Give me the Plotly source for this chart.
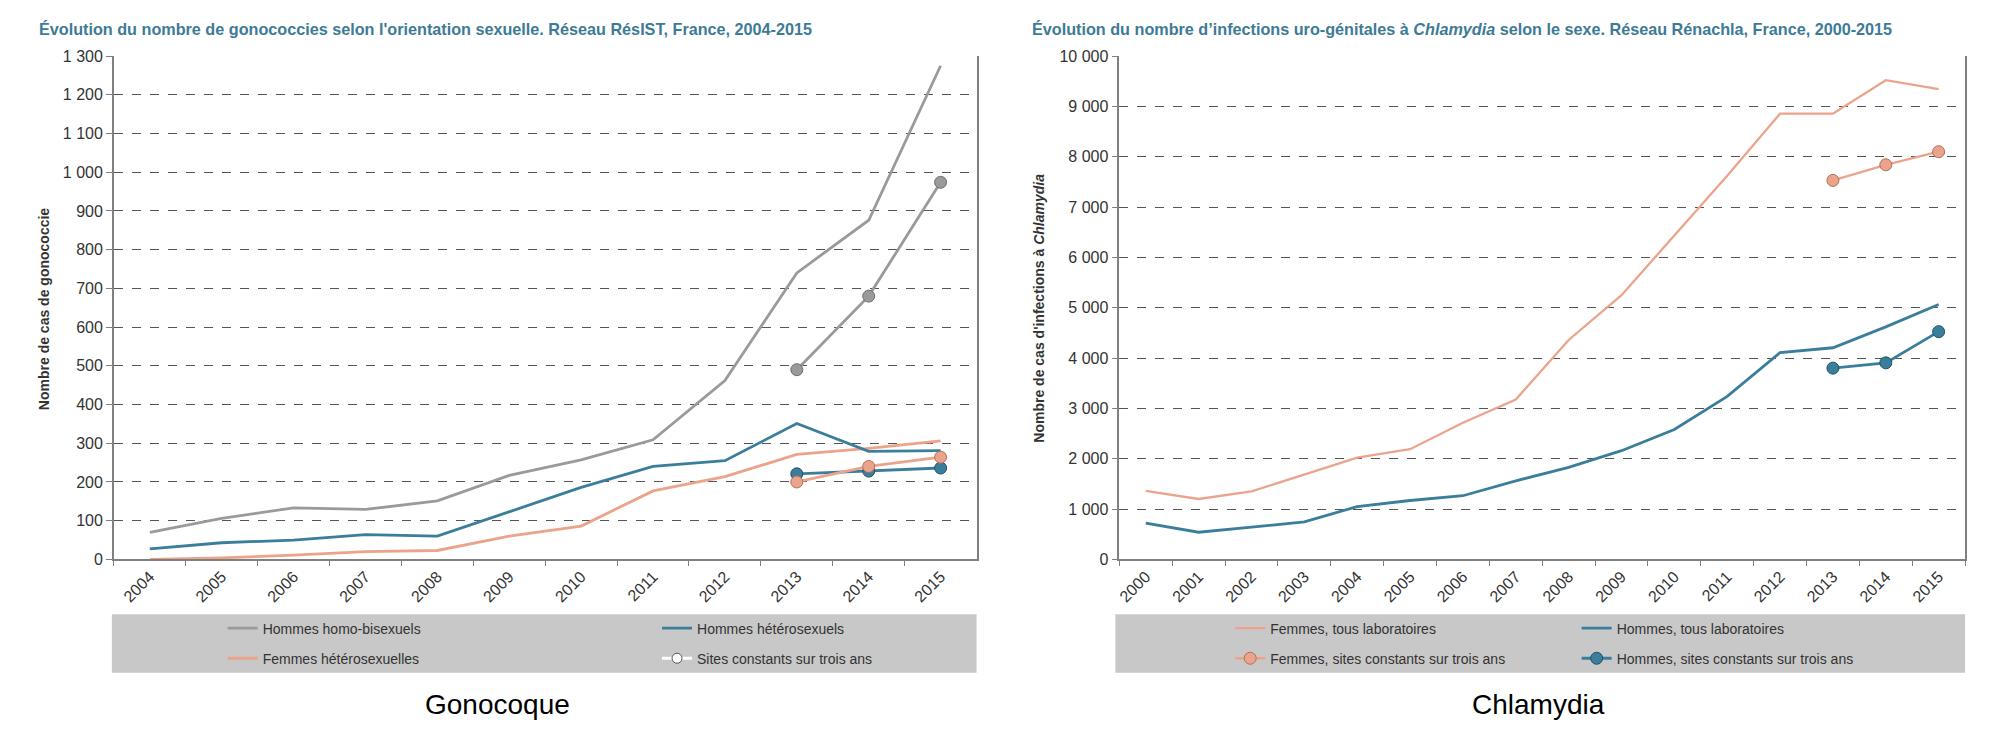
import plotly.graph_objects as go

# Gonocoque - Réseau RésIST, 2004-2015
gono_years = ['2004', '2005', '2006', '2007', '2008', '2009',
              '2010', '2011', '2012', '2013', '2014', '2015']
gono_hsh = [70, 106, 133, 129, 151, 217, 257, 309, 462, 740, 876, 1275]
gono_hetero_h = [27, 43, 50, 64, 60, 123, 186, 240, 255, 351, 279, 281]
gono_hetero_f = [0, 4, 11, 20, 23, 60, 86, 177, 214, 271, 287, 306]
const_years = ['2013', '2014', '2015']
gono_hsh_const = [490, 680, 974]
gono_hetero_h_const = [221, 228, 236]
gono_hetero_f_const = [200, 240, 264]

# Chlamydia - Réseau Rénachla, 2000-2015
chla_years = ['2000', '2001', '2002', '2003', '2004', '2005', '2006', '2007',
              '2008', '2009', '2010', '2011', '2012', '2013', '2014', '2015']
chla_femmes = [1360, 1200, 1350, 1690, 2020, 2190, 2715, 3175,
               4360, 5250, 6440, 7620, 8855, 8855, 9520, 9345]
chla_hommes = [720, 540, 640, 745, 1050, 1170, 1265, 1560,
               1830, 2160, 2580, 3240, 4110, 4205, 4620, 5065]
chla_femmes_const = [7530, 7840, 8100]
chla_hommes_const = [3800, 3905, 4525]

GREY = '#9a9a9a'
TEAL = '#3a7e9c'
SALMON = '#eba48b'
TITLE_BLUE = '#3d7b96'
SANS = 'Liberation Sans, Arial, sans-serif'
W, H = 2006, 750


def px(x):
    return x / W


def py(y):
    return (H - y) / H


fig = go.Figure()

# ---- Gonocoque
fig.add_trace(go.Scatter(x=gono_years, y=gono_hsh, mode='lines', name='Hommes homo-bisexuels',
                         line=dict(color=GREY, width=2.8), xaxis='x', yaxis='y',
                         legend='legend', legendgroup='a'))
fig.add_trace(go.Scatter(x=gono_years, y=gono_hetero_f, mode='lines', name='Femmes hétérosexuelles',
                         line=dict(color=SALMON, width=2.8), xaxis='x', yaxis='y',
                         legend='legend', legendgroup='b'))
fig.add_trace(go.Scatter(x=gono_years, y=gono_hetero_h, mode='lines', name='Hommes hétérosexuels',
                         line=dict(color=TEAL, width=2.8), xaxis='x', yaxis='y',
                         legend='legend2', legendgroup='c'))
for vals, col, edge in [(gono_hsh_const, GREY, '#6e6e6e'),
                        (gono_hetero_h_const, TEAL, '#1f4f66'),
                        (gono_hetero_f_const, SALMON, '#b0705a')]:
    fig.add_trace(go.Scatter(x=const_years, y=vals, mode='lines+markers', showlegend=False,
                             line=dict(color=col, width=2.8),
                             marker=dict(size=12, color=col, line=dict(color=edge, width=1)),
                             xaxis='x', yaxis='y'))
# legend-only entry for the "sites constants" style
fig.add_trace(go.Scatter(x=[None], y=[None], mode='lines+markers', name='Sites constants sur trois ans',
                         line=dict(color='white', width=3),
                         marker=dict(size=10, color='white', line=dict(color='#555', width=1)),
                         xaxis='x', yaxis='y', legend='legend2', legendgroup='d'))

# ---- Chlamydia
fig.add_trace(go.Scatter(x=chla_years, y=chla_femmes, mode='lines', name='Femmes, tous laboratoires',
                         line=dict(color=SALMON, width=2.3), xaxis='x2', yaxis='y2',
                         legend='legend3', legendgroup='e'))
fig.add_trace(go.Scatter(x=const_years, y=chla_femmes_const, mode='lines+markers',
                         name='Femmes, sites constants sur trois ans',
                         line=dict(color=SALMON, width=2.3),
                         marker=dict(size=12, color=SALMON, line=dict(color='#b0705a', width=1)),
                         xaxis='x2', yaxis='y2', legend='legend3', legendgroup='f'))
fig.add_trace(go.Scatter(x=chla_years, y=chla_hommes, mode='lines', name='Hommes, tous laboratoires',
                         line=dict(color=TEAL, width=2.8), xaxis='x2', yaxis='y2',
                         legend='legend4', legendgroup='g'))
fig.add_trace(go.Scatter(x=const_years, y=chla_hommes_const, mode='lines+markers',
                         name='Hommes, sites constants sur trois ans',
                         line=dict(color=TEAL, width=2.8),
                         marker=dict(size=12, color=TEAL, line=dict(color='#1f4f66', width=1)),
                         xaxis='x2', yaxis='y2', legend='legend4', legendgroup='h'))

# page body adds ~8px, so positions are given 8px up/left of the target
left_dom = [px(103), px(967)]
right_dom = [px(1110), px(1957)]
y_dom = [py(556), py(41)]

xcommon = dict(type='category', showgrid=False, showline=True, linecolor='#808080', linewidth=1.5,
               ticks='outside', tickson='boundaries', ticklen=5, tickcolor='#808080',
               tickangle=-45, tickfont=dict(family=SANS, size=16, color='#333'))
ycommon = dict(showgrid=True, gridcolor='#555', griddash='dash', gridwidth=1, zeroline=False,
               showline=True, mirror=True, linecolor='#808080', linewidth=1.5,
               ticks='outside', ticklen=6, tickcolor='#808080', tickformat=',d',
               tickfont=dict(family=SANS, size=16, color='#333'))

leg = dict(bgcolor='rgba(0,0,0,0)', orientation='v', xanchor='left', yanchor='middle',
           y=py(642), font=dict(family=SANS, size=14, color='#333'), tracegroupgap=9)

fig.update_layout(
    width=W, height=H,
    margin=dict(l=0, r=0, t=0, b=0),
    paper_bgcolor='white', plot_bgcolor='white',
    separators=', ',
    xaxis=dict(xcommon, domain=left_dom, anchor='y', range=[-0.5, len(gono_years) - 0.5]),
    yaxis=dict(ycommon, domain=y_dom, anchor='x', range=[0, 1300], dtick=100),
    xaxis2=dict(xcommon, domain=right_dom, anchor='y2', range=[-0.5, len(chla_years) - 0.5]),
    yaxis2=dict(ycommon, domain=y_dom, anchor='x2', range=[0, 10000], dtick=1000),
    legend=dict(leg, x=px(212)),
    legend2=dict(leg, x=px(647)),
    legend3=dict(leg, x=px(1221)),
    legend4=dict(leg, x=px(1568)),
    shapes=[
        dict(type='rect', xref='paper', yref='paper', x0=px(101), x1=px(967), y0=py(672), y1=py(612),
             fillcolor='#c8c8c8', line=dict(width=0), layer='below'),
        dict(type='rect', xref='paper', yref='paper', x0=px(1106), x1=px(1957), y0=py(672), y1=py(612),
             fillcolor='#c8c8c8', line=dict(width=0), layer='below'),
    ],
    annotations=[
        dict(text='Évolution du nombre de gonococcies selon l\'orientation sexuelle. Réseau RésIST, France, 2004-2015',
             x=px(26), y=py(13), xref='paper', yref='paper', xanchor='left', yanchor='middle', showarrow=False,
             font=dict(family=SANS, size=16.2, color=TITLE_BLUE, weight='bold')),
        dict(text='Évolution du nombre d’infections uro-génitales à <i>Chlamydia</i> selon le sexe. Réseau Rénachla, France, 2000-2015',
             x=px(1021), y=py(13), xref='paper', yref='paper', xanchor='left', yanchor='middle', showarrow=False,
             font=dict(family=SANS, size=16.2, color=TITLE_BLUE, weight='bold')),
        dict(text='<b>Nombre de cas de gonococcie</b>', textangle=-90,
             x=px(33), y=py(300), xref='paper', yref='paper', xanchor='center', yanchor='middle', showarrow=False,
             font=dict(family=SANS, size=14, color='#333')),
        dict(text='<b>Nombre de cas d\'infections à <i>Chlamydia</i></b>', textangle=-90,
             x=px(1030), y=py(299), xref='paper', yref='paper', xanchor='center', yanchor='middle', showarrow=False,
             font=dict(family=SANS, size=14, color='#333')),
        dict(text='Gonocoque', x=px(487), y=py(704), xref='paper', yref='paper',
             xanchor='center', yanchor='middle', showarrow=False,
             font=dict(family=SANS, size=28, color='black')),
        dict(text='Chlamydia', x=px(1530), y=py(704), xref='paper', yref='paper',
             xanchor='center', yanchor='middle', showarrow=False,
             font=dict(family=SANS, size=28, color='black')),
    ],
)

fig.write_html("out.html")
